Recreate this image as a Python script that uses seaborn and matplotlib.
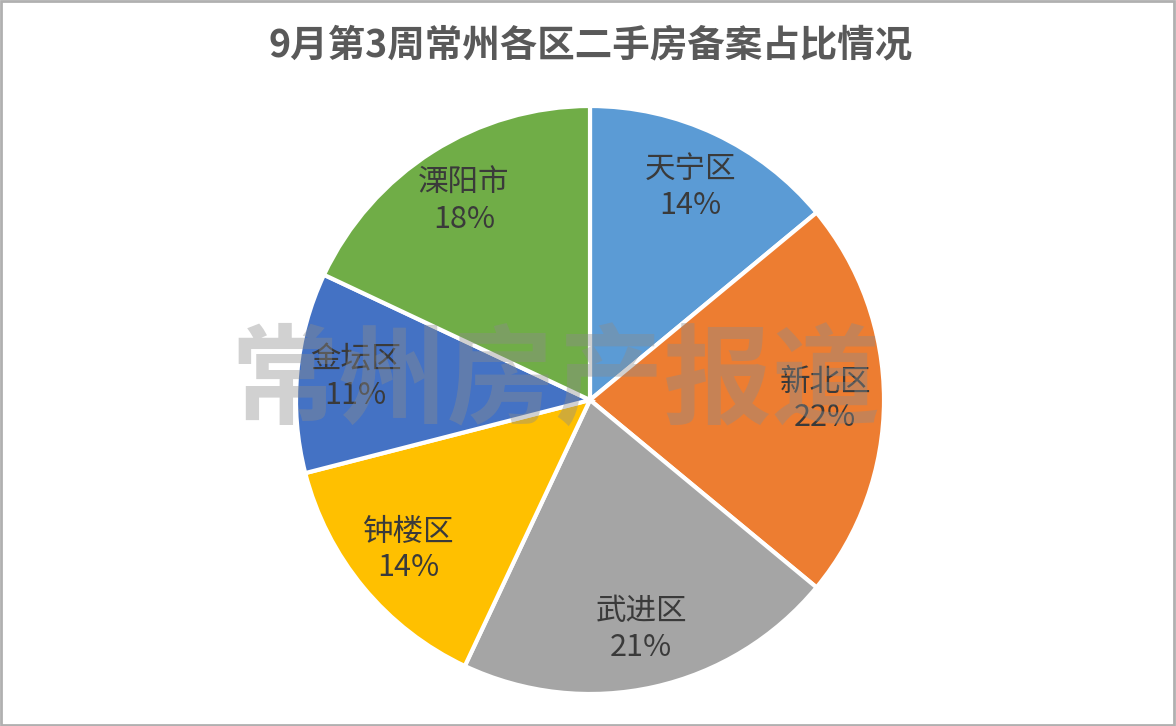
import matplotlib
matplotlib.use("Agg")
import matplotlib.pyplot as plt
import seaborn as sns
from matplotlib.patches import Rectangle

categories = ["天宁区", "新北区", "武进区", "钟楼区", "金坛区", "溧阳市"]
values = [14, 22, 21, 14, 11, 18]
colors_hex = ["#5B9BD5", "#ED7D31", "#A5A5A5", "#FFC000", "#4472C4", "#70AD47"]
title = "9月第3周常州各区二手房备案占比情况"
watermark = "常州房产报道"

sns.set_theme(style="white")
plt.rcParams['font.family'] = ['Noto Sans CJK SC', 'DejaVu Sans']
palette = sns.color_palette(colors_hex)

W, H = 1176, 726
fig = plt.figure(figsize=(W / 100, H / 100), dpi=100)
fig.patch.set_facecolor("white")

cx, cy, r = 590, 400, 294
ax = fig.add_axes([(cx - r) / W, (H - cy - r) / H, 2 * r / W, 2 * r / H])

labels = [f"{c}\n{v}%" for c, v in zip(categories, values)]
wedges, texts = ax.pie(values, labels=labels, colors=palette, startangle=90,
                       counterclock=False, labeldistance=0.80,
                       wedgeprops=dict(edgecolor="white", linewidth=3),
                       textprops=dict(fontsize=22, color="#3a3a3a", fontweight="medium",
                                      ha="center", va="center", linespacing=1.2))
ax.set_xlim(-1.0, 1.0)
ax.set_ylim(-1.0, 1.0)
ax.set_aspect("equal")
ax.axis("off")

fig.text(591 / W, 1 - 45 / H, title, ha="center", va="center",
         fontsize=27, fontweight="bold", color="#595959")

fig.text(555 / W, 1 - 385 / H, watermark, ha="center", va="center",
         fontsize=78, fontweight="bold", color="#8c8c8c", alpha=0.4,
         style="italic", zorder=10)

fig.patches.append(Rectangle((0.001, 0.002), 0.997, 0.996, transform=fig.transFigure,
                             fill=False, edgecolor="#b0b0b0", linewidth=2))

fig.savefig("out.png", dpi=100, facecolor="white")
